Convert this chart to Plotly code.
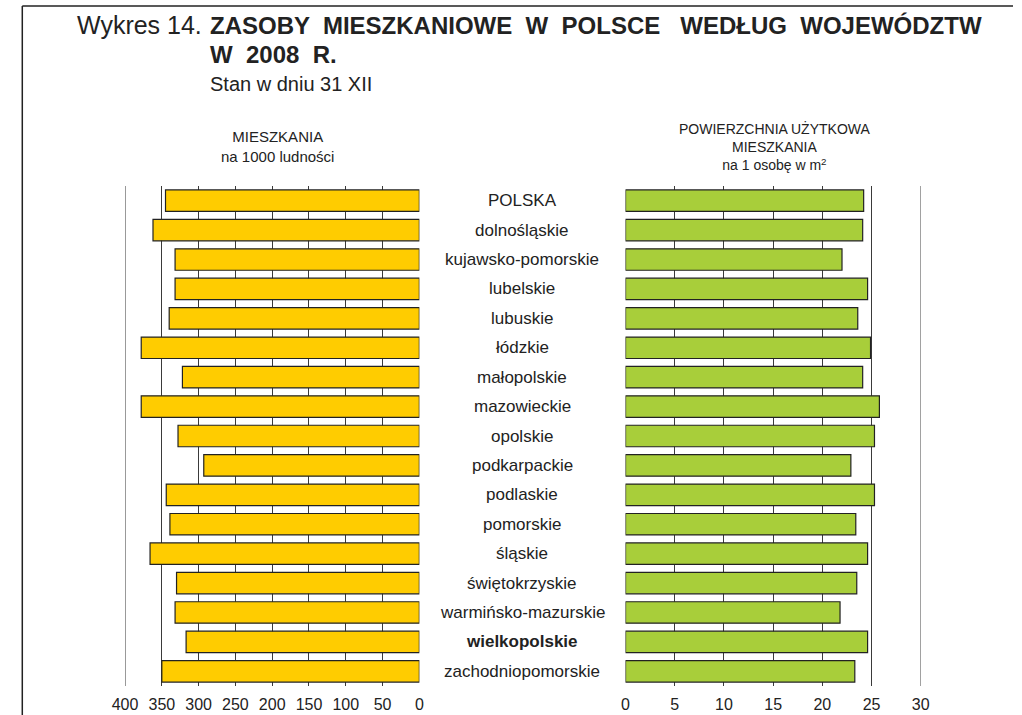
import plotly.graph_objects as go

categories = ["POLSKA", "dolnośląskie", "kujawsko-pomorskie", "lubelskie", "lubuskie",
              "łódzkie", "małopolskie", "mazowieckie", "opolskie", "podkarpackie",
              "podlaskie", "pomorskie", "śląskie", "świętokrzyskie",
              "warmińsko-mazurskie", "wielkopolskie", "zachodniopomorskie"]
dwellings_per_1000 = [345, 362, 332, 332, 340, 378, 322, 378, 328, 293,
                      344, 339, 366, 330, 332, 317, 350]
floor_area_per_person = [24.2, 24.1, 22.0, 24.6, 23.6, 24.9, 24.1, 25.8, 25.3, 22.9,
                         25.3, 23.4, 24.6, 23.5, 21.8, 24.6, 23.3]
left_ticks = [400, 350, 300, 250, 200, 150, 100, 50, 0]
right_ticks = [0, 5, 10, 15, 20, 25, 30]

W, H = 1022, 715
def px(x):
    return x / W
def py(y):
    return 1 - y / H

FONT = "Liberation Sans, Arial, sans-serif"

fig = go.Figure()
fig.add_trace(go.Bar(
    y=categories, x=dwellings_per_1000, orientation="h", width=0.73,
    marker=dict(color="#FFCC00", line=dict(color="#222222", width=1.2)),
    xaxis="x", yaxis="y", hoverinfo="x+y"))
fig.add_trace(go.Bar(
    y=categories, x=floor_area_per_person, orientation="h", width=0.73,
    marker=dict(color="#A8CE3A", line=dict(color="#222222", width=1.2)),
    xaxis="x2", yaxis="y2", hoverinfo="x+y"))

ydom = [py(686), py(186)]
axis_common = dict(showgrid=True, gridcolor="#3a3a3a", gridwidth=1, zeroline=False,
                   showline=False, ticks="", ticklabelstandoff=7,
                   tickfont=dict(family=FONT, size=16, color="#222"),
                   fixedrange=True)
fig.update_layout(
    width=W, height=H,
    margin=dict(l=0, r=0, t=0, b=0),
    paper_bgcolor="white", plot_bgcolor="white",
    showlegend=False, bargap=0.27,
    xaxis=dict(domain=[px(114.5), px(415.3)], range=[400, 0], tickvals=left_ticks,
               anchor="y", **axis_common),
    yaxis=dict(domain=ydom, range=[len(categories) - 0.5, -0.5], showticklabels=False,
               showgrid=False, zeroline=False, showline=False, ticks="", anchor="x",
               fixedrange=True, type="category"),
    xaxis2=dict(domain=[px(626), px(927.7)], range=[0, 30], tickvals=right_ticks,
                anchor="y2", **axis_common),
    yaxis2=dict(domain=ydom, range=[len(categories) - 0.5, -0.5], showticklabels=False,
                showgrid=False, zeroline=False, showline=False, ticks="", anchor="x2",
                fixedrange=True, type="category"),
)

# outer gridlines at the range edges (400 and 30)
fig.add_shape(type="line", xref="x", yref="y domain", x0=left_ticks[0], x1=left_ticks[0], y0=0, y1=1,
              line=dict(color="#3a3a3a", width=1), layer="below")
fig.add_shape(type="line", xref="x2", yref="y2 domain", x0=right_ticks[-1], x1=right_ticks[-1], y0=0, y1=1,
              line=dict(color="#555", width=1), layer="below")

# category labels in the middle
for c in categories:
    bold = c == "wielkopolskie"
    fig.add_annotation(x=px(520.5), xref="paper", y=c, yref="y", text=f"<b>{c}</b>" if bold else c,
                       showarrow=False, xanchor="center", yanchor="middle",
                       font=dict(family=FONT, size=17, color="#222"))

# titles
fig.add_annotation(x=px(63), y=py(25), xref="paper", yref="paper", xanchor="left", yanchor="middle",
                   showarrow=False, text="Wykres 14.", font=dict(family=FONT, size=25, color="#222"))
fig.add_annotation(x=px(199), y=py(25), xref="paper", yref="paper", xanchor="left", yanchor="middle",
                   showarrow=False, text="<b>ZASOBY  MIESZKANIOWE  W  POLSCE   WEDŁUG  WOJEWÓDZTW</b>",
                   font=dict(family=FONT, size=24, color="#222"))
fig.add_annotation(x=px(199), y=py(55), xref="paper", yref="paper", xanchor="left", yanchor="middle",
                   showarrow=False, text="<b>W  2008  R.</b>", font=dict(family=FONT, size=24, color="#222"))
fig.add_annotation(x=px(199), y=py(84), xref="paper", yref="paper", xanchor="left", yanchor="middle",
                   showarrow=False, text="Stan w dniu 31 XII", font=dict(family=FONT, size=20, color="#222"))

fig.add_annotation(x=px(270), y=py(147), xref="paper", yref="paper", xanchor="center", yanchor="middle",
                   showarrow=False, text="MIESZKANIA<br>na 1000 ludności",
                   font=dict(family=FONT, size=15, color="#222"))
fig.add_annotation(x=px(778), y=py(146), xref="paper", yref="paper", xanchor="center", yanchor="middle",
                   showarrow=False, text="POWIERZCHNIA UŻYTKOWA<br>MIESZKANIA<br>na 1 osobę w m<sup>2</sup>",
                   font=dict(family=FONT, size=14, color="#222"))

# frame
fig.add_shape(type="line", xref="paper", yref="paper", x0=px(9.5), x1=1, y0=py(6), y1=py(6),
              line=dict(color="#222", width=1.5))
fig.add_shape(type="line", xref="paper", yref="paper", x0=px(9.5), x1=px(9.5), y0=py(6), y1=0,
              line=dict(color="#222", width=1.5))

fig.write_html("out.html", config={"displayModeBar": False},
               post_script="document.body.style.margin='0';")
